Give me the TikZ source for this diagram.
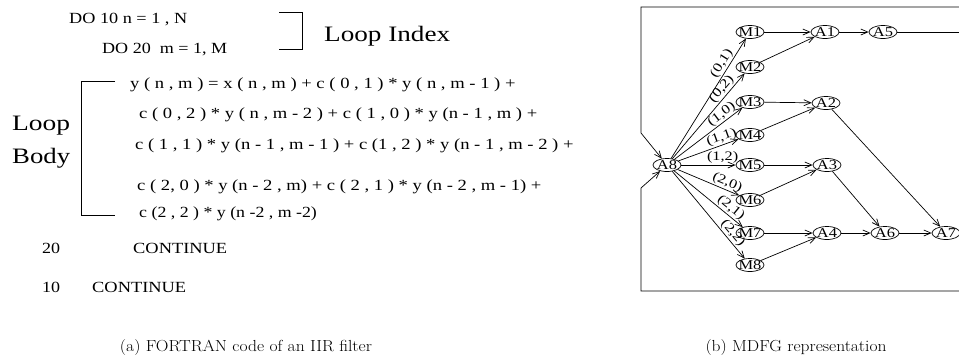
\documentclass[tikz,border=0pt]{standalone}
\usepackage{fontspec}
\newfontfamily\tms{Liberation Serif}
\usepackage{graphicx}
\usetikzlibrary{shapes.geometric,arrows.meta}
\newcommand{\sx}[2][1.2]{\scalebox{#1}[1]{#2}}
\newcommand{\fitw}[2]{\resizebox{#1pt}{\height}{#2}}
\newcommand{\nl}[1]{\makebox[0pt]{\scalebox{1.22}[1]{#1}}}
\begin{document}
\begin{tikzpicture}[x=1pt,y=-1pt,
  code/.style={font=\tms\fontsize{15.5}{17}\selectfont, inner sep=0pt, anchor=base west},
  big/.style={font=\tms\fontsize{22}{26}\selectfont, inner sep=0pt, anchor=base west},
  captxt/.style={font=\fontsize{16}{19}\selectfont, inner sep=0pt, anchor=base},
  brk/.style={line width=0.7pt},
  nd/.style={ellipse, draw, line width=0.7pt, inner sep=0pt, minimum width=28pt, minimum height=13pt,
     font=\tms\fontsize{13.5}{15}\selectfont},
  ln/.style={line width=0.7pt},
  arr/.style={line width=0.7pt, -{Straight Barb[length=7pt,width=6pt]}},
  lab/.style={font=\tms\fontsize{13}{15}\selectfont, sloped, pos=0.76, anchor=south, inner sep=1pt}]
\useasboundingbox (0,0) rectangle (959,360);

% ---------- left panel ----------
\node[code] (do10) at (69,23) {\fitw{118}{DO 10 n = 1 , N}};
\node[code] (do20) at (102,53) {\fitw{125}{DO 20\ \ m = 1, M}};
\coordinate (b1) at (279,12); \coordinate (b2) at (302,12);
\coordinate (b3) at (302,49); \coordinate (b4) at (279,49);
\draw[brk] (b1) -- (b2) -- (b3) -- (b4);
\node[big] (li) at (324,41) {\fitw{126}{Loop Index}};

\node[big] (loop) at (12,130) {\fitw{58}{Loop}};
\node[big] (body) at (12,163) {\fitw{58}{Body}};
\coordinate (c1) at (115,81); \coordinate (c2) at (81,81);
\coordinate (c3) at (81,215); \coordinate (c4) at (115,215);
\draw[brk] (c1) -- (c2) -- (c3) -- (c4);

\node[code] (l1) at (130,88) {\sx{y ( n , m ) = x ( n , m ) + c ( 0 , 1 ) * y ( n , m - 1 ) +}};
\node[code] (l2) at (139,118) {\sx{c ( 0 , 2 ) * y ( n , m - 2 ) + c ( 1 , 0 ) * y (n - 1 , m ) +}};
\node[code] (l3) at (135,149) {\sx{c ( 1 , 1 ) * y (n - 1 , m - 1 ) + c (1 , 2 ) * y (n - 1 , m - 2 ) +}};
\node[code] (l4) at (137,190) {\sx{c ( 2, 0 ) * y (n - 2 , m) + c ( 2 , 1 ) * y (n - 2 , m - 1) +}};
\node[code] (l5) at (139,217) {\sx[1.15]{c (2 , 2 ) * y (n -2 , m -2)}};

\node[code] (n20) at (42,253) {\fitw{18}{20}};
\node[code] (ct20) at (133,253) {\fitw{94}{CONTINUE}};
\node[code] (n10) at (42,292) {\fitw{18}{10}};
\node[code] (ct10) at (92,292) {\fitw{94}{CONTINUE}};

% ---------- right panel ----------
\node[nd] (A8) at (667,165) {\nl{A8}};
\node[nd] (M1) at (750,32) {\nl{M1}};
\node[nd] (M2) at (750,67) {\nl{M2}};
\node[nd] (M3) at (750,102) {\nl{M3}};
\node[nd] (M4) at (750,135) {\nl{M4}};
\node[nd] (M5) at (750,165) {\nl{M5}};
\node[nd] (M6) at (750,200) {\nl{M6}};
\node[nd] (M7) at (750,233) {\nl{M7}};
\node[nd] (M8) at (750,265) {\nl{M8}};
\node[nd] (A1) at (825,32) {\nl{A1}};
\node[nd] (A5) at (883,32) {\nl{A5}};
\node[nd] (A2) at (826,103) {\nl{A2}};
\node[nd] (A3) at (827,165) {\nl{A3}};
\node[nd] (A4) at (827,233) {\nl{A4}};
\node[nd] (A6) at (885,233) {\nl{A6}};
\node[nd] (A7) at (946,233) {\nl{A7}};

\draw[arr] (A8) -- node[lab]{\sx[1.25]{(0,1)}} (M1);
\draw[arr] (A8) -- node[lab]{\sx[1.25]{(0,2)}} (M2);
\draw[arr] (A8) -- node[lab]{\sx[1.25]{(1,0)}} (M3);
\draw[arr] (A8) -- node[lab]{\sx[1.25]{(1,1)}} (M4);
\draw[arr] (A8) -- node[lab]{\sx[1.25]{(1,2)}} (M5);
\draw[arr] (A8) -- node[lab]{\sx[1.25]{(2,0)}} (M6);
\draw[arr] (A8) -- node[lab]{\sx[1.25]{(2,1)}} (M7);
\draw[arr] (A8) -- node[lab]{\sx[1.25]{(2,2)}} (M8);

\draw[arr] (M1) -- (A1);
\draw[arr] (M2) -- (A1);
\draw[arr] (A1) -- (A5);
\draw[arr] (M3) -- (A2);
\draw[arr] (M4) -- (A2);
\draw[arr] (M5) -- (A3);
\draw[arr] (M6) -- (A3);
\draw[arr] (M7) -- (A4);
\draw[arr] (M8) -- (A4);
\draw[arr] (A4) -- (A6);
\draw[arr] (A6) -- (A7);
\draw[arr] (A3) -- (A6);
\draw[arr] (A2) -- (A7);

\coordinate (tr) at (959,7); \coordinate (tl) at (641,7); \coordinate (lt) at (641,133);
\coordinate (br) at (959,291); \coordinate (bl) at (641,291); \coordinate (lb) at (641,188);
\coordinate (r5) at (959,32);
\draw[arr] (tr) -- (tl) -- (lt) -- (A8);
\draw[arr] (br) -- (bl) -- (lb) -- (A8);
\draw[ln] (A5) -- (r5);

% ---------- captions ----------
\node[captxt] (capa) at (246,351) {\fitw{252}{(a) FORTRAN code of an IIR filter}};
\node[captxt] (capb) at (796,351) {\fitw{181}{(b) MDFG representation}};
\end{tikzpicture}
\end{document}
